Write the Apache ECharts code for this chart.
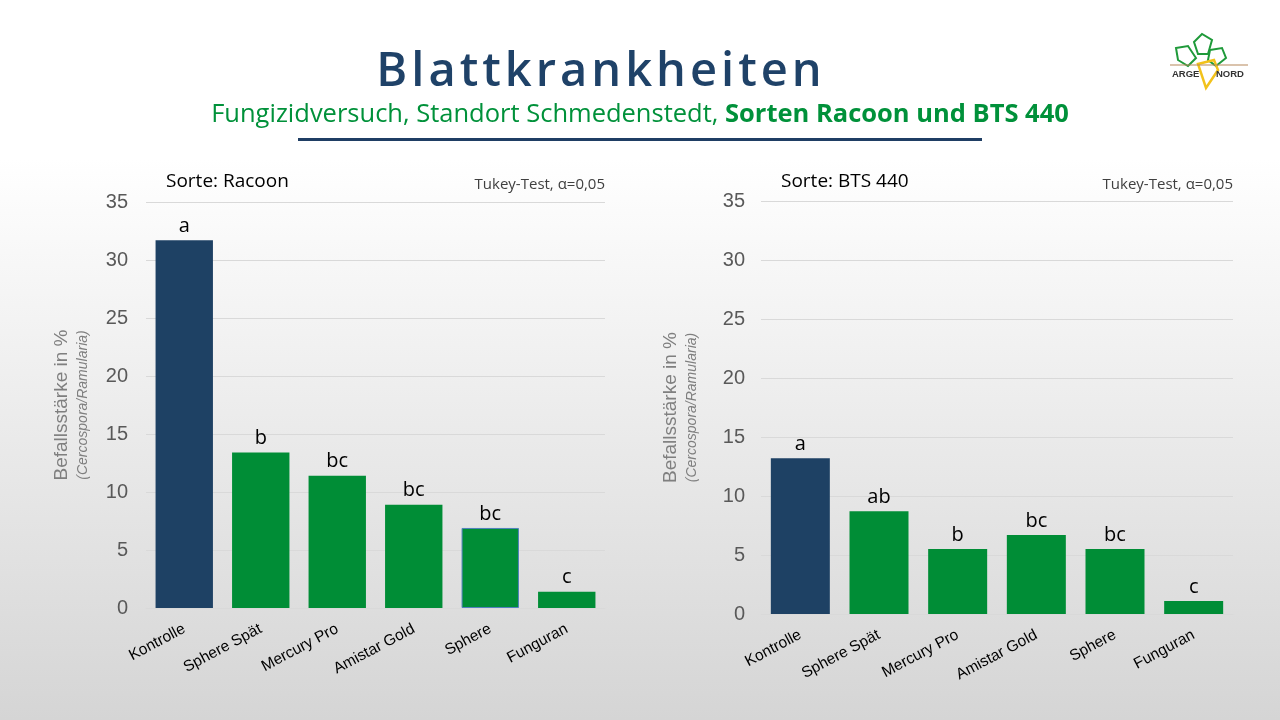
<!DOCTYPE html>
<html lang="de">
  <head>
    <meta charset="UTF-8" />
    <title>Blattkrankheiten</title>
    <script src="https://cdn.jsdelivr.net/npm/echarts@6/dist/echarts.min.js"></script>
    <style>
      html, body { margin: 0; padding: 0; }
      body {
        width: 1280px;
        height: 720px;
        overflow: hidden;
        position: relative;
        background: linear-gradient(to bottom, #ffffff 0%, #ffffff 22%, #d5d5d5 100%);
      }
      #main { position: absolute; left: 0; top: 0; width: 1280px; height: 720px; }
      .title {
        position: absolute;
        left: 0;
        width: 1202px;
        top: 36px;
        text-align: center;
        font-family: "Open Sans", sans-serif;
        font-weight: 600;
        font-size: 47px;
        letter-spacing: 4px;
        color: #1f4268;
        line-height: 64px;
      }
      .subtitle {
        position: absolute;
        left: 0;
        width: 1280px;
        top: 95px;
        text-align: center;
        font-family: "Open Sans", sans-serif;
        font-size: 25.5px;
        color: #00913a;
        line-height: 34px;
      }
      .subtitle b { font-weight: 700; }
      .rule {
        position: absolute;
        left: 298px;
        width: 684px;
        top: 138px;
        height: 3px;
        background: #1f3e64;
      }
      .logo { position: absolute; left: 1166px; top: 28px; }
    </style>
  </head>
  <body>
    <div id="main"></div>
    <div class="title">Blattkrankheiten</div>
    <div class="subtitle">Fungizidversuch, Standort Schmedenstedt, <b>Sorten Racoon und BTS 440</b></div>
    <div class="rule"></div>
    <svg class="logo" width="86" height="64" viewBox="0 0 86 64">
      <!-- Blätter -->
      <polygon points="28,14 36,6 46,12 42,26 32,26" fill="none" stroke="#1f9a3a" stroke-width="2" />
      <polygon points="10,20 22,18 30,30 22,38 12,32" fill="none" stroke="#1f9a3a" stroke-width="2" />
      <polygon points="44,22 56,20 60,30 50,38 42,32" fill="none" stroke="#1f9a3a" stroke-width="2" />
      <!-- Rübe -->
      <polygon points="32,36 48,32 52,42 40,60" fill="none" stroke="#f2c21b" stroke-width="2.5" />
      <line x1="4" y1="37" x2="82" y2="37" stroke="#b5875a" stroke-width="1.2" />
      <text x="6" y="49" font-family="Liberation Sans, Arial, sans-serif" font-weight="700" font-size="9.5" fill="#333">ARGE</text>
      <text x="50" y="49" font-family="Liberation Sans, Arial, sans-serif" font-weight="700" font-size="9.5" fill="#333">NORD</text>
    </svg>
    <script>
      // Daten
      var categories = ["Kontrolle", "Sphere Spät", "Mercury Pro", "Amistar Gold", "Sphere", "Funguran"];
      var racoonValues = [31.7, 13.4, 11.4, 8.9, 6.9, 1.4];
      var racoonLetters = ["a", "b", "bc", "bc", "bc", "c"];
      var bts440Values = [13.2, 8.7, 5.5, 6.7, 5.5, 1.1];
      var bts440Letters = ["a", "ab", "b", "bc", "bc", "c"];
      var yTicks = [0, 5, 10, 15, 20, 25, 30, 35];

      var colorKontrolle = "#1e4164";
      var colorGreen = "#008d36";

      var chartDom = document.getElementById("main");
      var myChart = echarts.init(chartDom, null, { renderer: "canvas" });

      function makeData(values, letters, outlineIndex) {
        var out = [];
        for (var i = 0; i < values.length; i++) {
          var item = {
            value: values[i],
            letter: letters[i],
            itemStyle: { color: i === 0 ? colorKontrolle : colorGreen },
          };
          if (i === outlineIndex) {
            item.itemStyle.borderColor = "#4f81bd";
            item.itemStyle.borderWidth = 1;
          }
          out.push(item);
        }
        return out;
      }

      function yAxisFor(gridIndex, nameGap, labelMargin) {
        return {
          gridIndex: gridIndex,
          type: "value",
          min: yTicks[0],
          max: yTicks[yTicks.length - 1],
          interval: yTicks[1] - yTicks[0],
          name: "{a|Befallsstärke in %}\n{b|(Cercospora/Ramularia)}",
          nameLocation: "middle",
          nameRotate: 90,
          nameGap: nameGap,
          nameTextStyle: {
            rich: {
              a: { fontFamily: "Liberation Sans, Arial", fontSize: 19, color: "#7f7f7f", lineHeight: 24 },
              b: { fontFamily: "Liberation Sans, Arial", fontSize: 14, fontStyle: "italic", color: "#7f7f7f", lineHeight: 18 },
            },
          },
          axisLine: { show: false },
          axisTick: { show: false },
          axisLabel: {
            fontFamily: "Liberation Sans, Arial",
            fontSize: 20,
            color: "#595959",
            margin: labelMargin,
          },
          splitLine: { show: true, lineStyle: { color: "#d9d9d9", width: 1 } },
        };
      }

      function xAxisFor(gridIndex) {
        return {
          gridIndex: gridIndex,
          type: "category",
          data: categories,
          axisLine: { show: true, lineStyle: { color: "#d9d9d9" } },
          axisTick: { show: false },
          axisLabel: {
            rotate: 28,
            interval: 0,
            margin: 20,
            fontFamily: "Liberation Sans, Arial",
            fontSize: 15.5,
            color: "#000000",
          },
        };
      }

      function barSeries(index, values, letters, outlineIndex) {
        return {
          type: "bar",
          xAxisIndex: index,
          yAxisIndex: index,
          barCategoryGap: "25%",
          data: makeData(values, letters, outlineIndex),
          label: {
            show: true,
            position: "top",
            distance: 4,
            fontFamily: "Open Sans, sans-serif",
            fontSize: 20,
            color: "#000000",
            formatter: function (p) {
              return p.data.letter;
            },
          },
        };
      }

      var option = {
        backgroundColor: "transparent",
        animation: false,
        grid: [
          { left: 146, right: 675, top: 202, bottom: 112 },
          { left: 761, right: 47, top: 201, bottom: 106 },
        ],
        xAxis: [xAxisFor(0), xAxisFor(1)],
        yAxis: [yAxisFor(0, 54, 18), yAxisFor(1, 60, 16)],
        series: [
          barSeries(0, racoonValues, racoonLetters, 4),
          barSeries(1, bts440Values, bts440Letters, -1),
        ],
        graphic: [
          {
            type: "text",
            left: 166,
            top: 172,
            style: { text: "Sorte: Racoon", fontFamily: "Open Sans, sans-serif", fontSize: 19, fill: "#000" },
          },
          {
            type: "text",
            right: 1280 - 605,
            top: 177,
            style: { text: "Tukey-Test, α=0,05", fontFamily: "Open Sans, sans-serif", fontSize: 15, fill: "#404040" },
          },
          {
            type: "text",
            left: 781,
            top: 172,
            style: { text: "Sorte: BTS 440", fontFamily: "Open Sans, sans-serif", fontSize: 19, fill: "#000" },
          },
          {
            type: "text",
            right: 1280 - 1233,
            top: 177,
            style: { text: "Tukey-Test, α=0,05", fontFamily: "Open Sans, sans-serif", fontSize: 15, fill: "#404040" },
          },
        ],
      };
      option && myChart.setOption(option);
    </script>
  </body>
</html>
